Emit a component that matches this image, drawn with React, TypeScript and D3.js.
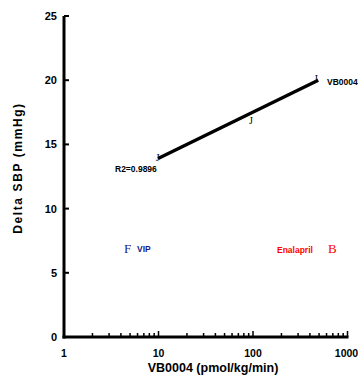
import { useEffect, useRef } from 'react';
import * as d3 from 'd3';

// dose-response readings (marker glyphs as drawn in the original)
const doses = [9.8, 95, 470];
const responses = [14.0, 16.9, 20.2];
const glyphs = ['J', 'J', 'I'];

// fitted line end points
const fitX = [9.9, 490];
const fitY = [13.9, 20.0];

const yTicks = [0, 5, 10, 15, 20, 25];
const xTicks = [1, 10, 100, 1000];

export default function App() {
  const svgRef = useRef<SVGSVGElement>(null);

  useEffect(() => {
    if (!svgRef.current) return;
    const svg = d3.select(svgRef.current);
    svg.selectAll('*').remove();

    const left = 64, right = 347.5, top = 16, bottom = 337;
    const font = '"Liberation Sans Narrow", "Liberation Sans", Arial, sans-serif';

    const x = d3.scaleLog().domain([1, 1000]).range([left, right]);
    const y = d3.scaleLinear().domain([0, 25]).range([bottom, top]);

    const g = svg.append('g');

    // minor ticks on x
    const minor: number[] = [];
    [1, 10, 100].forEach((dec) => {
      for (let i = 2; i <= 9; i++) minor.push(dec * i);
    });
    g.selectAll('line.minor')
      .data(minor)
      .join('line')
      .attr('x1', (d) => x(d)).attr('x2', (d) => x(d))
      .attr('y1', bottom).attr('y2', bottom - 4)
      .attr('stroke', '#000').attr('stroke-width', 1.5);

    g.selectAll('line.major')
      .data(xTicks.slice(1))
      .join('line')
      .attr('x1', (d) => x(d)).attr('x2', (d) => x(d))
      .attr('y1', bottom).attr('y2', bottom - 6)
      .attr('stroke', '#000').attr('stroke-width', 1.5);

    // y ticks
    g.selectAll('line.ytick')
      .data(yTicks.slice(1))
      .join('line')
      .attr('x1', left).attr('x2', left + 5)
      .attr('y1', (d) => y(d)).attr('y2', (d) => y(d))
      .attr('stroke', '#000').attr('stroke-width', 2);

    // axes lines
    g.append('line')
      .attr('x1', left).attr('x2', left)
      .attr('y1', top).attr('y2', bottom + 1.5)
      .attr('stroke', '#000').attr('stroke-width', 3);
    g.append('line')
      .attr('x1', left - 1.5).attr('x2', right + 1)
      .attr('y1', bottom).attr('y2', bottom)
      .attr('stroke', '#000').attr('stroke-width', 3);

    // tick labels
    g.selectAll('text.ylab')
      .data(yTicks)
      .join('text')
      .attr('x', left - 7).attr('y', (d) => y(d) + 4)
      .attr('text-anchor', 'end')
      .attr('font-family', font).attr('font-weight', 'bold').attr('font-size', '11px')
      .text((d) => d);

    g.selectAll('text.xlab')
      .data(xTicks)
      .join('text')
      .attr('x', (d) => (d === 1000 ? x(d) - 1 : x(d))).attr('y', bottom + 20)
      .attr('text-anchor', 'middle')
      .attr('font-family', font).attr('font-weight', 'bold').attr('font-size', '10.5px')
      .text((d) => d);

    // axis titles
    svg.append('text')
      .attr('x', 213).attr('y', 372)
      .attr('text-anchor', 'middle')
      .attr('font-family', font).attr('font-weight', 'bold').attr('font-size', '12.5px')
      .text('VB0004 (pmol/kg/min)');

    svg.append('text')
      .attr('transform', 'translate(22,168) rotate(-90)')
      .attr('text-anchor', 'middle')
      .attr('font-family', font).attr('font-weight', 'bold').attr('font-size', '12px')
      .attr('letter-spacing', '1.6px')
      .text('Delta SBP (mmHg)');

    // fitted line
    g.append('line')
      .attr('x1', x(fitX[0])).attr('y1', y(fitY[0]))
      .attr('x2', x(fitX[1])).attr('y2', y(fitY[1]))
      .attr('stroke', '#000').attr('stroke-width', 3.4);

    // markers
    g.selectAll('text.pt')
      .data(doses)
      .join('text')
      .attr('x', (d) => x(d)).attr('y', (d, i) => y(responses[i]) + 4)
      .attr('text-anchor', 'middle')
      .attr('font-family', '"Liberation Serif", "Times New Roman", serif')
      .attr('font-size', '10px')
      .text((d, i) => glyphs[i]);

    // annotations
    g.append('text')
      .attr('x', 115).attr('y', 172)
      .attr('font-family', font).attr('font-weight', 'bold').attr('font-size', '8.5px')
      .text('R2=0.9896');
    g.append('text')
      .attr('x', 327).attr('y', 85)
      .attr('font-family', font).attr('font-weight', 'bold').attr('font-size', '8.5px')
      .text('VB0004');

    g.append('text')
      .attr('x', 124).attr('y', 253)
      .attr('fill', '#1a1a8c')
      .attr('font-family', '"Liberation Serif", "Times New Roman", serif').attr('font-size', '13px')
      .text('F');
    g.append('text')
      .attr('x', 137).attr('y', 252)
      .attr('fill', '#1a1a8c')
      .attr('font-family', font).attr('font-weight', 'bold').attr('font-size', '8.5px')
      .text('VIP');

    g.append('text')
      .attr('x', 277).attr('y', 253)
      .attr('fill', '#ff0000')
      .attr('font-family', font).attr('font-weight', 'bold').attr('font-size', '8.5px')
      .text('Enalapril');
    g.append('text')
      .attr('x', 328).attr('y', 253)
      .attr('fill', '#ff0000')
      .attr('font-family', '"Liberation Serif", "Times New Roman", serif').attr('font-size', '13px')
      .text('B');
  }, []);

  return (
    <svg
      ref={svgRef}
      width={358}
      height={380}
      style={{ position: 'absolute', left: 0, top: 0, background: '#fff' }}
    />
  );
}
